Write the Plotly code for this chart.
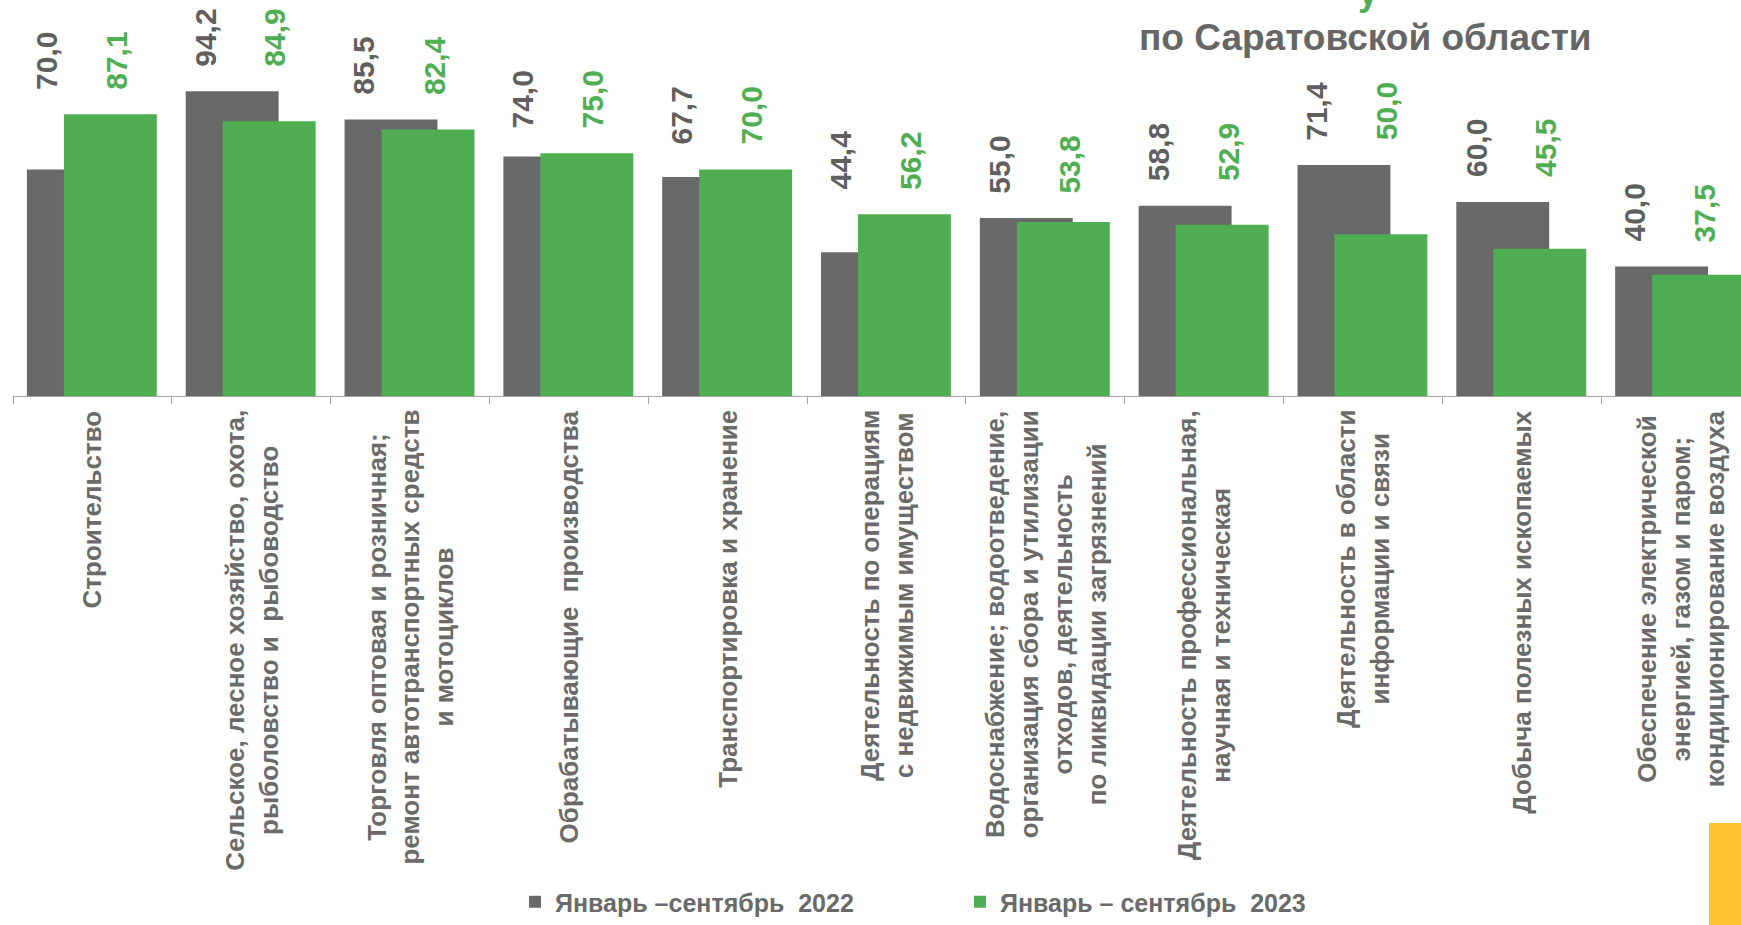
import plotly.graph_objects as go

categories = [
    "Строительство",
    "Сельское, лесное хозяйство, охота,<br>рыболовство и  рыбоводство",
    "Торговля оптовая и розничная;<br>ремонт автотранспортных средств<br>и мотоциклов",
    "Обрабатывающие  производства",
    "Транспортировка и хранение",
    "Деятельность по операциям<br>с недвижимым имуществом",
    "Водоснабжение; водоотведение,<br>организация сбора и утилизации<br>отходов, деятельность<br>по ликвидации загрязнений",
    "Деятельность профессиональная,<br>научная и техническая",
    "Деятельность в области<br>информации и связи",
    "Добыча полезных ископаемых",
    "Обеспечение электрической<br>энергией, газом и паром;<br>кондиционирование воздуха",
]
values_2022 = [70.0, 94.2, 85.5, 74.0, 67.7, 44.4, 55.0, 58.8, 71.4, 60.0, 40.0]
values_2023 = [87.1, 84.9, 82.4, 75.0, 70.0, 56.2, 53.8, 52.9, 50.0, 45.5, 37.5]
series_names = ["Январь –сентябрь  2022", "Январь – сентябрь  2023"]
title_text = "по Саратовской области"

GRAY = "#696969"
GREEN = "#4FAE51"
FONT = "Liberation Sans, Arial, sans-serif"

W, H = 1741, 925
ML, MB = 13, 529
PH = H - MB  # plot height in px
bar_w = 0.585
pos = list(range(len(categories)))

fig = go.Figure()
fig.add_trace(go.Bar(x=pos, y=values_2022, width=bar_w, offset=-0.12 - bar_w / 2,
                     marker=dict(color=GRAY, line=dict(width=0)), name=series_names[0]))
fig.add_trace(go.Bar(x=pos, y=values_2023, width=bar_w, offset=0.113 - bar_w / 2,
                     marker=dict(color=GREEN, line=dict(width=0)), name=series_names[1]))

def fmt(v):
    return f"{v:.1f}".replace(".", ",")

ann = []
for i, (a, b) in enumerate(zip(values_2022, values_2023)):
    top = max(a, b) + 7
    ann.append(dict(x=i - 0.29, y=top, xref="x", yref="y", text=fmt(a), textangle=-90,
                    showarrow=False, yanchor="bottom", xanchor="center",
                    font=dict(family=FONT, size=30, color="#5f5f5f", weight="bold")))
    ann.append(dict(x=i + 0.15, y=top, xref="x", yref="y", text=fmt(b), textangle=-90,
                    showarrow=False, yanchor="bottom", xanchor="center",
                    font=dict(family=FONT, size=30, color=GREEN, weight="bold")))
for i, c in enumerate(categories):
    ann.append(dict(x=i, y=-12 / PH, xref="x", yref="paper", text=c, textangle=-90,
                    showarrow=False, yanchor="top", xanchor="center", align="center",
                    font=dict(family=FONT, size=26, color="#6a6a6a", weight="bold")))
ann.append(dict(x=(1365 - ML) / (W - ML), y=(PH - 37) / PH, xref="paper", yref="paper",
                text=title_text, showarrow=False, xanchor="center", yanchor="middle",
                font=dict(family=FONT, size=37, color="#666666", weight="bold")))
ann.append(dict(x=(1368 - ML) / (W - ML), y=(PH + 8) / PH, xref="paper", yref="paper",
                text="у", showarrow=False, xanchor="center", yanchor="middle",
                font=dict(family=FONT, size=36, color=GREEN, weight="bold")))

fig.update_layout(
    width=W, height=H,
    margin=dict(l=ML, r=0, t=0, b=MB, pad=0),
    paper_bgcolor="white", plot_bgcolor="white",
    barmode="overlay",
    annotations=ann,
    showlegend=True,
    legend=dict(orientation="h", x=(515 - ML) / (W - ML), xanchor="left",
                y=(PH - H) / PH, yanchor="bottom",
                font=dict(family=FONT, size=25, color="#6a6a6a", weight="bold"),
                entrywidth=400, entrywidthmode="pixels", itemwidth=30,
                bgcolor="rgba(0,0,0,0)", traceorder="normal"),
    shapes=[dict(type="rect", xref="paper", yref="paper",
                 x0=(1709 - ML) / (W - ML), x1=1.0,
                 y0=(PH - 823) / PH, y1=(PH - H) / PH,
                 fillcolor="#FFC12F", line=dict(width=0), layer="above")],
)
fig.update_xaxes(range=[-0.5, 10.38], tickvals=[i - 0.5 for i in range(len(categories) + 1)],
                 ticks="outside", ticklen=7, tickcolor="#A6A6A6", tickwidth=1,
                 showline=True, linecolor="#A6A6A6", linewidth=1,
                 showticklabels=False, showgrid=False, zeroline=False, fixedrange=True)
fig.update_yaxes(range=[0, 122.4], visible=False, showgrid=False, zeroline=False)

fig.write_html("out.html", config={"displayModeBar": False},
               post_script="document.body.style.margin='0';document.body.style.overflow='hidden';")
